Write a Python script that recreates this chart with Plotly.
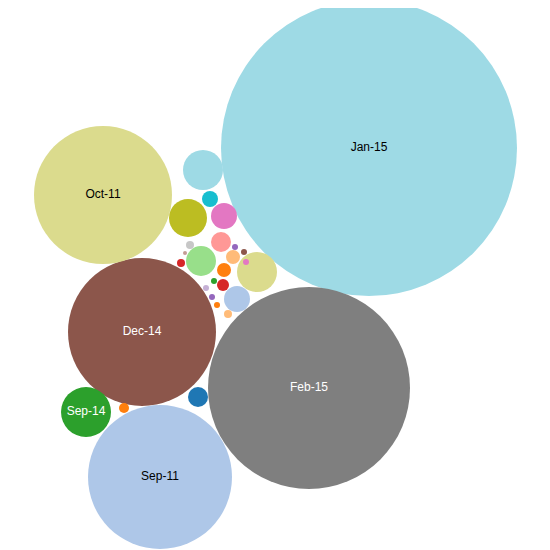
import plotly.graph_objects as go

labels = ["Jan-15","Feb-15","Dec-14","Oct-11","Sep-11","Sep-14","","","","","","","","","","","","","","","","","","","","","","","",""]
cx = [369,309,142,103,160,86,203,210,188,224,221,201,257,237,198,124,224,233,223,181,190,212,244,217,206,214,235,228,246,185]
cy = [148,388,332,195,477,412,170,199,218,216,242,261,272,299,397,408,270,257,285,263,245,297,252,305,288,281,247,314,262,253]
r  = [148,101,74,69,72,25,20,8,19,13,10,15,20,13,10,5,7,7,6,4,4,3,3,3,3,3,3,4,3,2]
colors = ["#9edae5","#7f7f7f","#8c564b","#dbdb8d","#aec7e8","#2ca02c","#9edae5","#17becf","#bcbd22","#e377c2",
          "#ff9896","#98df8a","#dbdb8d","#aec7e8","#1f77b4","#ff7f0e","#ff7f0e","#ffbb78","#d62728","#d62728",
          "#c7c7c7","#9467bd","#8c564b","#ff7f0e","#c5b0d5","#2ca02c","#9467bd","#ffbb78","#e377c2","#c49c94"]
text_colors = ["black","white","white","black","black","white"]

fig = go.Figure()
shapes = []
for i in range(len(cx)):
    shapes.append(dict(type="circle", xref="x", yref="y", x0=cx[i]-r[i], x1=cx[i]+r[i],
                       y0=cy[i]-r[i], y1=cy[i]+r[i], fillcolor=colors[i], line=dict(width=0), layer="below"))
fig.add_trace(go.Scatter(x=cx[:6], y=cy[:6], mode="text", text=labels[:6],
                         textfont=dict(family="Liberation Sans, Arial", size=12, color=text_colors),
                         hoverinfo="skip"))
fig.update_layout(shapes=shapes, width=550, height=550, margin=dict(l=0, r=0, t=0, b=0),
                  paper_bgcolor="white", plot_bgcolor="white", showlegend=False,
                  xaxis=dict(range=[8,558], visible=False, fixedrange=True),
                  yaxis=dict(range=[558,8], visible=False, fixedrange=True))
fig.write_html("out.html")
